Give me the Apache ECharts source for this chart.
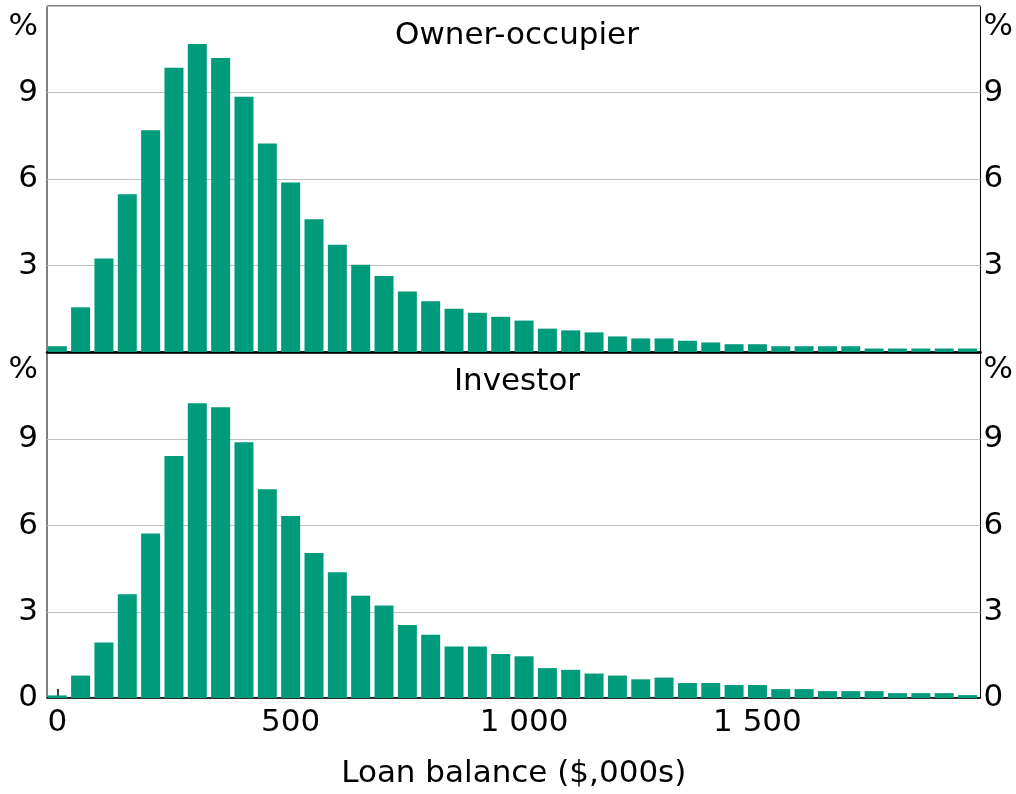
<!DOCTYPE html>
<html>
<head>
<meta charset="utf-8">
<title>Loan balance distribution</title>
<script src="https://cdn.jsdelivr.net/npm/echarts@6/dist/echarts.min.js"></script>
<style>
  html, body { margin: 0; padding: 0; background: #fff; }
  #main { width: 1016px; height: 794px; }
</style>
</head>
<body>
<div id="main"></div>
<script>
  // loan balance bins ($,000s), start of each 50k bin
  const binStarts = [0, 50, 100, 150, 200, 250, 300, 350, 400, 450,
    500, 550, 600, 650, 700, 750, 800, 850, 900, 950,
    1000, 1050, 1100, 1150, 1200, 1250, 1300, 1350, 1400, 1450,
    1500, 1550, 1600, 1650, 1700, 1750, 1800, 1850, 1900, 1950]
  // share of loans, %
  const ownerOccupier = [0.20, 1.55, 3.24, 5.47, 7.69, 9.86, 10.68, 10.20, 8.85, 7.23,
    5.88, 4.60, 3.72, 3.03, 2.64, 2.10, 1.76, 1.50, 1.36, 1.22,
    1.09, 0.81, 0.75, 0.68, 0.54, 0.47, 0.47, 0.39, 0.33, 0.27,
    0.27, 0.20, 0.20, 0.20, 0.20, 0.12, 0.12, 0.12, 0.12, 0.12]
  const investor = [0.09, 0.78, 1.93, 3.61, 5.72, 8.42, 10.25, 10.11, 8.90, 7.26,
    6.33, 5.04, 4.37, 3.56, 3.22, 2.54, 2.20, 1.79, 1.79, 1.53,
    1.45, 1.04, 0.98, 0.85, 0.78, 0.65, 0.71, 0.52, 0.52, 0.45,
    0.45, 0.31, 0.31, 0.24, 0.24, 0.24, 0.17, 0.17, 0.17, 0.10]
  const xTicks = [0, 500, 1000, 1500]
  const panelTitles = ['Owner-occupier', 'Investor']

  const FONT = 'DejaVu Sans'
  const barColor = '#009b7a'

  let myChart = echarts.init(document.getElementById('main'))

  function pairs(vals) {
    return binStarts.map((x, i) => [x, vals[i]])
  }

  // y axis for a panel, left or right side
  function yAxis(grid, side, showZero, pctPad) {
    return {
      type: 'value',
      gridIndex: grid,
      position: side,
      min: 0,
      max: 12,
      interval: 3,
      axisLine: { show: false },
      axisTick: { show: false },
      splitLine: { show: side === 'left', lineStyle: { color: '#c0c0c0', width: 1.2 } },
      axisLabel: {
        margin: side === 'left' ? 9 : 3,
        color: '#000',
        fontFamily: FONT,
        fontSize: 31,
        formatter: function (v) {
          if (v === 12) return '{p|%}'
          if (v === 0 && !showZero) return ''
          return String(v)
        },
        rich: {
          p: { padding: [pctPad, 0, 0, 0], fontFamily: FONT, fontSize: 31, color: '#000' }
        }
      }
    }
  }

  let option = {
    animation: false,
    textStyle: { fontFamily: FONT },
    title: [
      {
        text: panelTitles[0], left: 512, top: 15, textAlign: 'center',
        textStyle: { fontFamily: FONT, fontSize: 31, fontWeight: 'normal', color: '#000' }
      },
      {
        text: panelTitles[1], left: 512, top: 361, textAlign: 'center',
        textStyle: { fontFamily: FONT, fontSize: 31, fontWeight: 'normal', color: '#000' }
      }
    ],
    grid: [
      { left: 47, right: 34, top: 6, height: 346, show: true, borderColor: '#000', borderWidth: 1 },
      { left: 47, right: 34, top: 353, height: 345, show: true, borderColor: '#000', borderWidth: 1 }
    ],
    xAxis: [
      {
        type: 'value', gridIndex: 0, min: -22, max: 1978,
        axisLine: { show: true, onZero: false, lineStyle: { color: '#000', width: 2.5 } },
        axisTick: { show: false },
        axisLabel: { show: false },
        splitLine: { show: false }
      },
      {
        type: 'value', gridIndex: 1, min: -22, max: 1978,
        axisLine: { show: true, onZero: false, lineStyle: { color: '#000', width: 1.5 } },
        axisTick: {
          show: true, inside: true, length: 9, customValues: xTicks,
          lineStyle: { color: '#000', width: 1.5 }
        },
        axisLabel: {
          customValues: xTicks,
          margin: 9,
          color: '#000',
          fontFamily: FONT,
          fontSize: 31,
          formatter: function (v) {
            return v >= 1000 ? Math.floor(v / 1000) + ' ' + String(v % 1000).padStart(3, '0') : String(v)
          }
        },
        splitLine: { show: false },
        name: 'Loan balance ($,000s)',
        nameLocation: 'middle',
        nameGap: 60,
        nameTextStyle: { fontFamily: FONT, fontSize: 31, color: '#000' }
      }
    ],
    yAxis: [
      yAxis(0, 'left', false, 42),
      yAxis(0, 'right', false, 42),
      yAxis(1, 'left', true, 34),
      yAxis(1, 'right', true, 34)
    ],
    series: [
      {
        name: panelTitles[0], type: 'bar', xAxisIndex: 0, yAxisIndex: 0,
        barWidth: 19, itemStyle: { color: barColor },
        data: pairs(ownerOccupier)
      },
      {
        name: panelTitles[1], type: 'bar', xAxisIndex: 1, yAxisIndex: 2,
        barWidth: 19, itemStyle: { color: barColor },
        data: pairs(investor)
      }
    ]
  }
  option && myChart.setOption(option)
</script>
</body>
</html>
